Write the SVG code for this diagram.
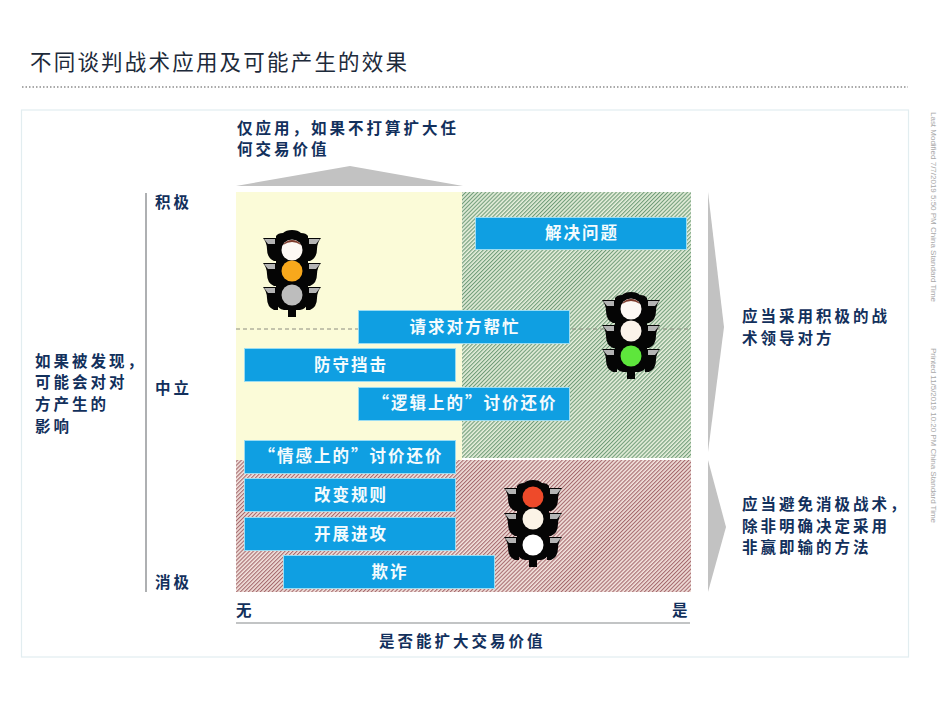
<svg xmlns="http://www.w3.org/2000/svg" width="941" height="706" viewBox="0 0 941 706">
<style>
text{font-family:"Noto Sans CJK SC","Noto Sans",sans-serif}
.t{font-size:15.5px;font-weight:700;fill:#12305c;letter-spacing:3px}
.b{font-size:16.5px;font-weight:700;fill:#f4fbfd;letter-spacing:2px;text-anchor:middle}
.title{font-size:21.5px;font-weight:400;fill:#1d2a3a;letter-spacing:2.2px}
.side{font-family:"Liberation Sans",Arial,sans-serif;font-size:8px;fill:#a8a8a8}
.box{fill:#0f9fe2;stroke:#9adcf2;stroke-width:1}
.arrow{fill:#c2c2c2}
.axis{stroke:#aeb0b2;fill:none}
.lamp{stroke:none}
</style>
<defs>
<pattern id="hg" width="2.800" height="2.800" patternUnits="userSpaceOnUse" patternTransform="rotate(45)">
<rect width="2.800" height="2.800" fill="#e6eedb"/><rect width="1.100" height="2.800" fill="#6f9c78"/>
</pattern>
<pattern id="hr" width="2.800" height="2.800" patternUnits="userSpaceOnUse" patternTransform="rotate(45)">
<rect width="2.800" height="2.800" fill="#f2e2dc"/><rect width="1.100" height="2.800" fill="#a5696e"/>
</pattern>
<g id="tl">
<path fill="#050505" d="M-4 80h8v7h-8z"/>
<path fill="#050505" d="M-16 6Q-14 3-9 3Q-6 0 0 0Q6 0 9 3Q14 3 16 6V73Q14 79 8 80H-8Q-14 79-16 73Z"/>
<g fill="#050505">
<path d="M-29 8H-14V31H-18Q-25 28-25 19Q-25 13-29 8Z"/>
<path d="M29 8H14V31H18Q25 28 25 19Q25 13 29 8Z"/>
<path d="M-29 33H-14V56H-18Q-25 53-25 44Q-25 38-29 33Z"/>
<path d="M29 33H14V56H18Q25 53 25 44Q25 38 29 33Z"/>
<path d="M-29 57H-14V80H-18Q-25 77-25 68Q-25 62-29 57Z"/>
<path d="M29 57H14V80H18Q25 77 25 68Q25 62 29 57Z"/>
</g>
<g fill="#b4b4b4">
<path d="M-28 9H-17V14H-24Z"/><path d="M28 9H17V14H24Z"/>
<path d="M-28 34H-17V39H-24Z"/><path d="M28 34H17V39H24Z"/>
<path d="M-28 58H-17V63H-24Z"/><path d="M28 58H17V63H24Z"/>
</g>
</g>
</defs>
<rect width="941" height="706" fill="#ffffff"/>

<g id="header">
<text class="title" x="30" y="70">不同谈判战术应用及可能产生的效果</text>
<line x1="22" y1="87" x2="908" y2="87" stroke="#8d8d8d" stroke-width="1.500" stroke-dasharray="1.500 2"/>
</g>
<rect id="frame" x="21.500" y="110" width="887" height="547" fill="none" stroke="#e2edf0" stroke-width="1.200"/>

<g id="quadrants">
<rect id="q-yellow" x="236" y="192" width="226" height="268" fill="#fbfbd8"/>
<rect id="q-green" x="462" y="192" width="229" height="266" fill="url(#hg)"/>
<rect id="q-red" x="236" y="460" width="455" height="132" fill="url(#hr)"/>
</g>

<g id="connectors">
<line class="axis" x1="146" y1="193" x2="146" y2="592" stroke-width="2"/>
<line class="axis" x1="236" y1="623" x2="690" y2="623" stroke-width="1.500"/>
<line x1="236" y1="329" x2="691" y2="329" stroke="#8c8c80" stroke-width="1" stroke-dasharray="4 3"/>
<polygon class="arrow" points="236,186 350,166 463,186"/>
<polygon class="arrow" points="708,192 724,327 708,452"/>
<polygon class="arrow" points="708,460 726,527 708,592"/>
</g>

<g id="light-amber" transform="translate(292 230)">
<use href="#tl"/>
<circle class="lamp" cy="20" r="10.500" fill="#fdf8f4"/><path class="lamp" d="M-9 15A10.500 10.500 0 0 1 9 15Q0 9-9 15Z" fill="#7c3a2c"/><circle class="lamp" cy="41" r="10.500" fill="#f8a81c"/><circle class="lamp" cy="65" r="10.500" fill="#bdbdbd"/>
</g>
<g id="light-green" transform="translate(631 292)">
<use href="#tl"/>
<circle class="lamp" cy="17" r="10.500" fill="#fdf8f4"/><path class="lamp" d="M-9 12A10.500 10.500 0 0 1 9 12Q0 6-9 12Z" fill="#7c3a2c"/><circle class="lamp" cy="39" r="10.500" fill="#fbf3ea"/><circle class="lamp" cy="64" r="10.500" fill="#5ee63c"/>
</g>
<g id="light-red" transform="translate(533 480)">
<use href="#tl"/>
<circle class="lamp" cy="17" r="10.500" fill="#ee4a2a"/><circle class="lamp" cy="39" r="10.500" fill="#fbf3e6"/><circle class="lamp" cy="65" r="10.500" fill="#ffffff"/>
</g>

<g id="n-solve"><rect class="box" x="475.500" y="217.500" width="211" height="32"/><text class="b" x="582" y="239">解决问题</text></g>
<g id="n-help"><rect class="box" x="358.500" y="310.500" width="211" height="33"/><text class="b" x="465" y="333">请求对方帮忙</text></g>
<g id="n-defend"><rect class="box" x="244.500" y="348.500" width="211" height="33"/><text class="b" x="351" y="371">防守挡击</text></g>
<g id="n-logic"><rect class="box" x="358.500" y="387.500" width="211" height="33"/><text class="b" x="465" y="409">“逻辑上的”讨价还价</text></g>
<g id="n-emotion"><rect class="box" x="244.500" y="440.500" width="211" height="33"/><text class="b" x="351" y="462">“情感上的”讨价还价</text></g>
<g id="n-rules"><rect class="box" x="244.500" y="478.500" width="211" height="33"/><text class="b" x="351" y="501">改变规则</text></g>
<g id="n-attack"><rect class="box" x="244.500" y="517.500" width="211" height="33"/><text class="b" x="351" y="540">开展进攻</text></g>
<g id="n-fraud"><rect class="box" x="283.500" y="555.500" width="211" height="33"/><text class="b" x="390" y="578">欺诈</text></g>

<g id="labels">
<text class="t" x="237" y="134">仅应用，如果不打算扩大任</text>
<text class="t" x="237" y="155">何交易价值</text>
<text class="t" x="35" y="367">如果被发现，</text>
<text class="t" x="35" y="388">可能会对对</text>
<text class="t" x="35" y="410">方产生的</text>
<text class="t" x="35" y="432">影响</text>
<text class="t" x="155" y="208">积极</text>
<text class="t" x="155" y="394">中立</text>
<text class="t" x="155" y="588">消极</text>
<text class="t" x="236" y="616">无</text>
<text class="t" x="672" y="616">是</text>
<text class="t" x="379" y="647">是否能扩大交易价值</text>
<text class="t" x="742" y="322">应当采用积极的战</text>
<text class="t" x="742" y="344">术领导对方</text>
<text class="t" x="742" y="510">应当避免消极战术，</text>
<text class="t" x="742" y="532">除非明确决定采用</text>
<text class="t" x="742" y="553">非赢即输的方法</text>
</g>
<g id="stamps">
<text class="side" transform="translate(931 112) rotate(90)" textLength="190" lengthAdjust="spacing">Last Modified 7/7/2019 5:50 PM China Standard Time</text>
<text class="side" transform="translate(931 348) rotate(90)" textLength="175" lengthAdjust="spacing">Printed 11/5/2019 10:20 PM China Standard Time</text>
</g>
</svg>
